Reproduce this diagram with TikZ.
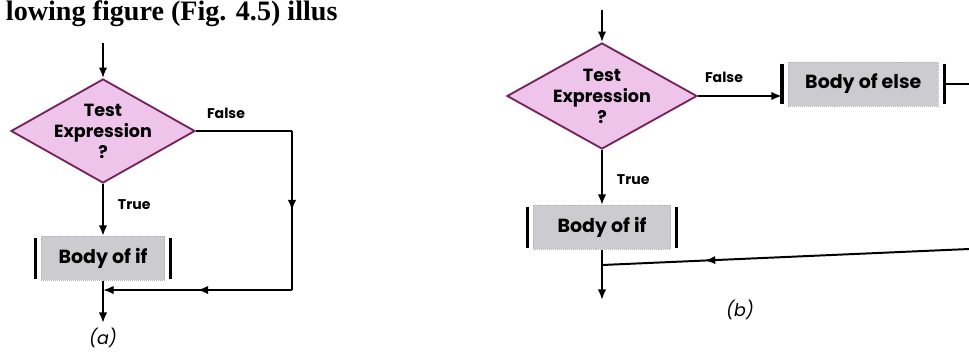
\documentclass[tikz,border=0pt]{standalone}
\usepackage{fontspec}
\setmainfont{Poppins}
\newfontfamily\bookfont{Liberation Serif}
\usepackage{tikz}
\usetikzlibrary{shapes.geometric,arrows.meta,positioning,calc,decorations.markings}
\definecolor{testpink}{RGB}{238,196,234}
\definecolor{testedge}{RGB}{115,35,90}
\definecolor{bodygrey}{RGB}{204,204,208}
\tikzset{
  testbox/.style={diamond,draw=testedge,line width=1.3pt,fill=testpink,align=center,
                  font=\bfseries\fontsize{12.5}{15}\selectfont,inner sep=-9pt,
                  minimum width=4.6cm,minimum height=2.6cm},
  bodybox/.style={draw=black!30,densely dotted,fill=bodygrey,
                  font=\bfseries\fontsize{13.5}{16}\selectfont,minimum height=1.1cm},
  sidebar/.style={line width=2.2pt},
  wire/.style={line width=1.4pt},
  arr/.style={-{Latex[length=7.5pt,width=6pt]},line width=1.4pt},
  midtip/.style={postaction={decorate},decoration={markings,
                 mark=at position #1 with {\arrow{Latex[length=7.5pt,width=6pt]}}}},
  tag/.style={font=\bfseries\fontsize{10}{12}\selectfont},
  caption/.style={font=\itshape\fontsize{12.5}{14}\selectfont},
}
\begin{document}
\begin{tikzpicture}[x=0.025cm,y=-0.025cm]
        \useasboundingbox (0,0) rectangle (969,351);
        \node[anchor=base west,font=\bookfont\bfseries\fontsize{20}{22}\selectfont]
              (lead) at (1,20) {lowing figure (Fig. 4.5) illus};
        % (a)
        \coordinate (ina) at (103,43);
        \node[testbox] (testa) at (103,131) {Test\\Expression\\?};
        \node[bodybox,minimum width=3.075cm,below=1.3cm of testa]
              (ifa) {Body of if};
        \coordinate (turna) at (292,131);
        \coordinate (joina) at (103,290);
        \coordinate (outa) at (103,323);
        \draw[arr](ina)--(testa.north);
        \draw[arr](testa.south)--(ifa.north);
        \draw[wire](testa.east)--(turna);
        \draw[wire,midtip=0.5](turna)--(turna |- joina);
        \draw[arr,midtip=0.5](turna |- joina)--(joina);
        \draw[arr](ifa.south)--(outa);
        \draw[sidebar]($(ifa.north west)+(-6,2)$)--($(ifa.south west)+(-6,-2)$);
        \draw[sidebar]($(ifa.north east)+(6,2)$)--($(ifa.south east)+(6,-2)$);
        \node[tag] (falsea) at (226,113) {False};
        \node[tag,anchor=west] (truea) at (113,205) {True};
        \node[caption] (capa) at (103,338) {(a)};
        % (b)
        \coordinate (inb) at (602,10);
        \node[testbox,minimum width=4.75cm,minimum height=2.65cm]
              (testb) at (602,96) {Test\\Expression\\?};
        \node[bodybox,minimum width=3.425cm,below=1.375cm of testb]
              (ifb) {Body of if};
        \node[bodybox,minimum width=3.75cm,right=2.25cm of testb,yshift=0.3cm]
              (elseb) {Body of else};
        \coordinate (edgeb) at (969,84);
        \coordinate (backb) at (969,249);
        \coordinate (joinb) at (602,265);
        \coordinate (outb) at (602,300);
        \draw[arr](inb)--(testb.north);
        \draw[arr](testb.south)--(ifb.north);
        \draw[arr](testb.east)--($(testb.east -| elseb.west)+(-6,0)$);
        \draw[wire]($(elseb.east)+(6,0)$)--(edgeb);
        \draw[wire,midtip=0.72](backb)--(joinb);
        \draw[arr](ifb.south)--(outb);
        \draw[sidebar]($(ifb.north west)+(-6,2)$)--($(ifb.south west)+(-6,-2)$);
        \draw[sidebar]($(ifb.north east)+(6,2)$)--($(ifb.south east)+(6,-2)$);
        \draw[sidebar]($(elseb.north west)+(-6,2)$)--($(elseb.south west)+(-6,-2)$);
        \draw[sidebar]($(elseb.north east)+(6,2)$)--($(elseb.south east)+(6,-2)$);
        \node[tag] (falseb) at (724,77) {False};
        \node[tag,anchor=west] (trueb) at (612,180) {True};
        \node[caption] (capb) at (740,310) {(b)};
      \end{tikzpicture}
\end{document}
